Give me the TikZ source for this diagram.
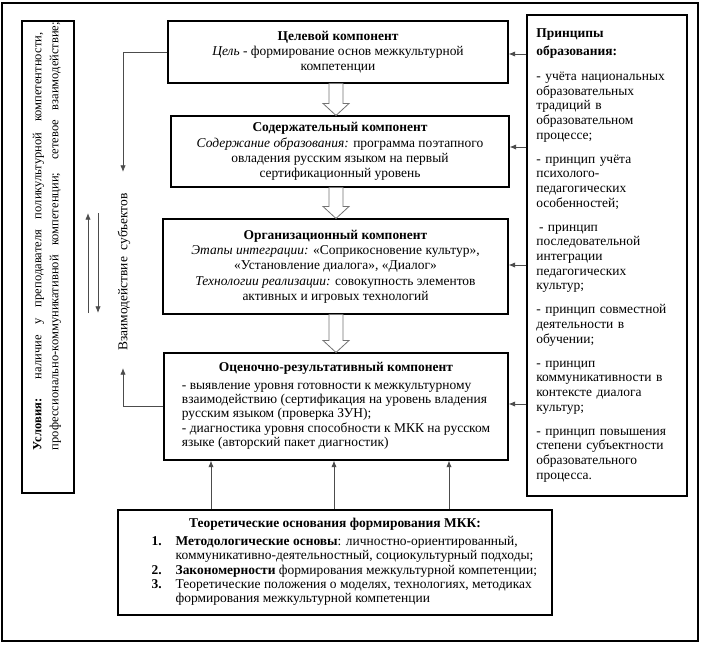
\documentclass[tikz,border=0pt]{standalone}
\usepackage{fontspec}
\setmainfont{Liberation Serif}
\usetikzlibrary{arrows.meta,calc}
\renewcommand{\arraystretch}{0.94}

\begin{document}
\begin{tikzpicture}[x=0.75pt, y=-0.75pt,
        text_style/.style={font=\fontsize{10.1}{11.5}\selectfont},
        box_style/.style={draw=black, line width=0.8pt, inner sep=0pt, align=center, text_style},
        edge_style/.style={draw=black!70, line width=0.6pt, -{Latex[length=5pt,width=4pt]}},
        block_style/.style={draw=black!55, line width=0.6pt, fill=white, line join=miter}]
    \useasboundingbox (0,0) rectangle (709,647);
    \draw[line width=0.8pt] (2,3) rectangle (698,641);

    \node[box_style, minimum width=39pt, minimum height=354pt] (cond) at (48,257) {};
    \node[font=\fontsize{9.4}{12.8}\selectfont, rotate=90, align=left] (cond_text) at (47,236)
        {\makebox[313pt][s]{\textbf{Условия:} наличие у преподавателя поликультурной компетентности,}\\
         \makebox[321pt][s]{профессионально-коммуникативной компетенции; сетевое взаимодействие;}};

    \node[box_style, minimum width=255pt, minimum height=46.5pt] (goal) at (338,52)
        {\textbf{Целевой компонент}\\ \textit{Цель} - формирование основ межкультурной\\ компетенции};
    \node[box_style, minimum width=253.5pt, minimum height=53.25pt] (content) at (340,151.5)
        {\textbf{Содержательный компонент}\\ \textit{Содержание образования:} программа поэтапного\\
         овладения русским языком на первый\\ сертификационный уровень};
    \node[box_style, minimum width=258.75pt, minimum height=71.25pt] (org) at (335.5,266.5)
        {\textbf{Организационный компонент}\\ \textit{Этапы интеграции:} «Соприкосновение культур»,\\
         «Установление диалога», «Диалог»\\ \textit{Технологии реализации:} совокупность элементов\\
         активных и игровых технологий};
    \node[box_style, minimum width=258pt, minimum height=80.25pt] (eval) at (336,406.5)
        {\textbf{Оценочно-результативный компонент}\\[2pt]
         \begin{tabular}[t]{@{}l@{}}
         - выявление уровня готовности к межкультурному\\
         взаимодействию (сертификация на уровень владения\\
         русским языком (проверка ЗУН);\\
         - диагностика уровня способности к МКК на русском\\
         языке (авторский пакет диагностик)
         \end{tabular}};
    \node[box_style, minimum width=325.5pt, minimum height=78.75pt] (theory) at (335,562.5)
        {\textbf{Теоретические основания формирования МКК:}\\[2pt]
         \hspace*{14pt}\begin{tabular}[t]{@{}p{18pt}@{}l@{}}
         \textbf{1.} & \textbf{Методологические основы}: личностно-ориентированный,\\
                     & коммуникативно-деятельностный, социокультурный подходы;\\
         \textbf{2.} & \textbf{Закономерности} формирования межкультурной компетенции;\\
         \textbf{3.} & Теоретические положения о моделях, технологиях, методиках\\
                     & формирования межкультурной компетенции
         \end{tabular}};
    \node[box_style, font=\fontsize{10.1}{11}\selectfont, minimum width=120pt, minimum height=360.75pt,
          text width=106pt, align=left] (prin) at (607,255.5)
        {\textbf{Принципы}\\[2.3pt] \textbf{образования:}\\[7.8pt]
         - учёта национальных\\ образовательных\\ традиций в\\ образовательном\\ процессе;\\[7pt]
         - принцип учёта\\ психолого-\\ педагогических\\ особенностей;\\[7pt]
         \hspace*{2pt}- принцип\\ последовательной\\ интеграции\\ педагогических\\ культур;\\[7pt]
         - принцип совместной\\ деятельности в\\ обучении;\\[7pt]
         - принцип\\ коммуникативности в\\ контексте диалога\\ культур;\\[7pt]
         - принцип повышения\\ степени субъектности\\ образовательного\\ процесса.};

    \draw[edge_style] (prin.west |- 0,54) -- (goal.east |- 0,54);
    \draw[edge_style] (prin.west |- 0,147) -- (content.east |- 0,147);
    \draw[edge_style] (prin.west |- 0,265) -- (org.east |- 0,265);
    \draw[edge_style] (prin.west |- 0,404) -- (eval.east |- 0,404);

    \coordinate (fb_top) at (123,172);
    \coordinate (fb_bot) at (123,368);
    \draw[edge_style] (goal.west) -| (fb_top);
    \draw[edge_style] (eval.west |- 0,406) -| (fb_bot);

    \node[text_style, rotate=90] (interact) at (124,272) {Взаимодействие\ \ субъектов};
    \coordinate (up_from) at (88,313);
    \coordinate (up_to) at (88,213);
    \coordinate (down_from) at (98,213);
    \coordinate (down_to) at (98,313);
    \draw[edge_style] (up_from) -- (up_to);
    \draw[edge_style] (down_from) -- (down_to);

    \draw[edge_style] (theory.north -| 211,0) -- (eval.south -| 211,0);
    \draw[edge_style] (theory.north -| 334,0) -- (eval.south -| 334,0);
    \draw[edge_style] (theory.north -| 449,0) -- (eval.south -| 449,0);

    \coordinate (b1_tail) at (goal.south -| 336,0);
    \coordinate (b1_tip) at (content.north -| 336,0);
    \draw[block_style] ($(b1_tail)+(-7,0)$) -- ($(b1_tail)+(7,0)$) -- ($(b1_tip)+(7,-12)$) -- ($(b1_tip)+(13,-12)$)
        -- (b1_tip) -- ($(b1_tip)+(-13,-12)$) -- ($(b1_tip)+(-7,-12)$) -- cycle;
    \coordinate (b2_tail) at (content.south -| 336,0);
    \coordinate (b2_tip) at (org.north -| 336,0);
    \draw[block_style] ($(b2_tail)+(-7,0)$) -- ($(b2_tail)+(7,0)$) -- ($(b2_tip)+(7,-12)$) -- ($(b2_tip)+(13,-12)$)
        -- (b2_tip) -- ($(b2_tip)+(-13,-12)$) -- ($(b2_tip)+(-7,-12)$) -- cycle;
    \coordinate (b3_tail) at (org.south -| 336,0);
    \coordinate (b3_tip) at (eval.north -| 336,0);
    \draw[block_style] ($(b3_tail)+(-7,0)$) -- ($(b3_tail)+(7,0)$) -- ($(b3_tip)+(7,-12)$) -- ($(b3_tip)+(13,-12)$)
        -- (b3_tip) -- ($(b3_tip)+(-13,-12)$) -- ($(b3_tip)+(-7,-12)$) -- cycle;
\end{tikzpicture}
\end{document}
